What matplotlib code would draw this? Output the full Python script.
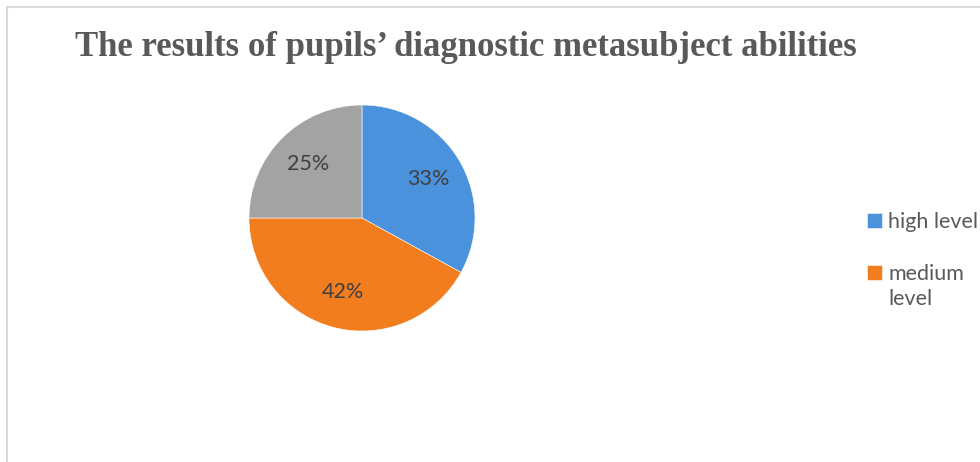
import matplotlib.pyplot as plt
from matplotlib.patches import Rectangle

categories = ["high level", "medium level", "low level"]
shares = [33, 42, 25]
legend_labels = ["high level", "medium"]
legend_wrap = "level"  # second line of "medium level"
colors = ["#4A92DC", "#F27D1E", "#A3A3A3"]

W, H = 980, 462
fig = plt.figure(figsize=(W / 100, H / 100), dpi=100)

# light chart frame, cut at right and bottom like the screenshot
fig.patches.append(Rectangle((7 / W, -0.1), 1.2, 1.1 - 7 / H, transform=fig.transFigure,
                             fill=False, edgecolor="#D9D9D9", linewidth=1.5))

fig.text(466 / W, 1 - 48 / H, "The results of pupils\u2019 diagnostic metasubject abilities",
         ha="center", va="center", fontsize=25, fontweight="bold",
         family="Liberation Serif", color="#595959")

cx, cy, r = 362, 218, 113
ax = fig.add_axes([(cx - r) / W, (H - cy - r) / H, 2 * r / W, 2 * r / H])
wedges, texts, autotexts = ax.pie(
    shares, colors=colors, startangle=90, counterclock=False,
    autopct="%d%%", pctdistance=0.68, radius=1,
    wedgeprops=dict(edgecolor="white", linewidth=0.4),
    textprops=dict(fontsize=15.5, color="#404040", family="Lato"))
ax.set_xlim(-1, 1)
ax.set_ylim(-1, 1)
ax.axis("off")

leg = fig.legend(wedges[:2], legend_labels, loc="upper left",
                 bbox_to_anchor=(858 / W, 1 - 203 / H), frameon=False,
                 prop=dict(family="Lato", size=15.5), labelcolor="#595959",
                 handlelength=0.7, handleheight=0.7, handletextpad=0.3,
                 labelspacing=1.5, borderaxespad=0)

# wrapped second line under "medium"
fig.canvas.draw()
bb = leg.get_texts()[1].get_window_extent()
fig.text(bb.x0 / W, (bb.y0 - 25) / H, legend_wrap, ha="left", va="bottom",
         family="Lato", fontsize=15.5, color="#595959")

fig.savefig("out.png", dpi=100)
